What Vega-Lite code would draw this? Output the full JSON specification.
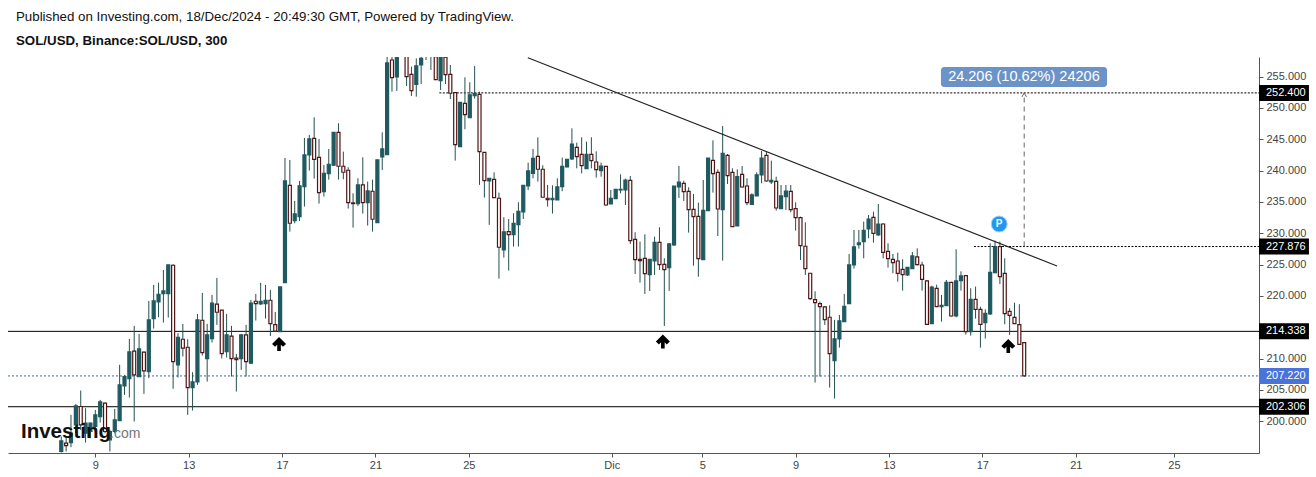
{
"$schema":"https://vega.github.io/schema/vega-lite/v6.json",
"width":1251,"height":396,"autosize":{"type":"none"},
"padding":{"left":8,"top":57,"right":57,"bottom":24},
"background":"white",
"config":{"view":{"stroke":null},"font":"Liberation Sans"},
"title":{"text":"Published on Investing.com, 18/Dec/2024 - 20:49:30 GMT, Powered by TradingView.","subtitle":"SOL/USD, Binance:SOL/USD, 300","anchor":"start","frame":"group","dx":8,"offset":8,"font":"Liberation Sans","fontSize":13.3,"fontWeight":"normal","color":"#111","subtitleFont":"Liberation Sans","subtitleFontSize":13.3,"subtitleFontWeight":"bold","subtitleColor":"#111","subtitlePadding":11},
"datasets":{
"levels":[
{"kind":"support","price":214.338,"start":"2024-11-05T06:14Z","end":"2024-12-28T20:24Z","tagEnd":"2024-12-30T23:45Z","labelAt":"2024-12-29T03:32Z","lo":213.06,"hi":215.62,"label":"214.338"},
{"kind":"support","price":202.306,"start":"2024-11-05T06:14Z","end":"2024-12-28T20:24Z","tagEnd":"2024-12-30T23:45Z","labelAt":"2024-12-29T03:32Z","lo":201.03,"hi":203.58,"label":"202.306"},
{"kind":"current","price":207.22,"start":"2024-11-05T06:14Z","end":"2024-12-28T20:24Z","tagEnd":"2024-12-30T23:45Z","labelAt":"2024-12-29T03:32Z","lo":205.94,"hi":208.5,"label":"207.220"},
{"kind":"target","price":252.4,"start":"2024-11-23T17:40Z","end":"2024-12-28T20:24Z","tagEnd":"2024-12-30T23:45Z","labelAt":"2024-12-29T03:32Z","lo":251.12,"hi":253.68,"label":"252.400"},
{"kind":"target","price":227.876,"start":"2024-12-16T15:22Z","end":"2024-12-28T20:24Z","tagEnd":"2024-12-30T23:45Z","labelAt":"2024-12-29T03:32Z","lo":226.6,"hi":229.15,"label":"227.876"}
],
"arrows":[{"t":"2024-11-16T20:53Z","price":212.32},{"t":"2024-12-03T07:30Z","price":212.7},{"t":"2024-12-18T02:38Z","price":212.0}],
"candles":[
{"t":"2024-11-07T13:00Z","open":195.16,"high":197.55,"low":195.0,"close":196.86},
{"t":"2024-11-07T18:00Z","open":196.49,"high":197.55,"low":195.16,"close":196.11},
{"t":"2024-11-07T23:00Z","open":196.59,"high":201.01,"low":195.85,"close":198.08},
{"t":"2024-11-08T04:00Z","open":199.41,"high":202.76,"low":198.08,"close":202.44},
{"t":"2024-11-08T09:00Z","open":202.34,"high":204.89,"low":198.61,"close":199.41},
{"t":"2024-11-08T14:00Z","open":198.08,"high":202.07,"low":196.59,"close":199.68},
{"t":"2024-11-08T19:00Z","open":198.35,"high":199.78,"low":197.28,"close":199.68},
{"t":"2024-11-09T00:00Z","open":199.15,"high":201.8,"low":198.35,"close":201.01},
{"t":"2024-11-09T05:00Z","open":200.74,"high":203.4,"low":199.78,"close":203.08},
{"t":"2024-11-09T10:00Z","open":202.87,"high":202.97,"low":198.08,"close":198.35},
{"t":"2024-11-09T15:00Z","open":197.02,"high":198.61,"low":195.16,"close":198.35},
{"t":"2024-11-09T20:00Z","open":198.35,"high":201.96,"low":198.08,"close":200.21},
{"t":"2024-11-10T01:00Z","open":200.1,"high":208.99,"low":200.1,"close":205.79},
{"t":"2024-11-10T06:00Z","open":205.63,"high":207.39,"low":204.2,"close":207.12},
{"t":"2024-11-10T11:00Z","open":206.8,"high":213.13,"low":203.77,"close":211.06},
{"t":"2024-11-10T16:00Z","open":211.17,"high":215.21,"low":199.94,"close":207.39},
{"t":"2024-11-10T21:00Z","open":207.12,"high":213.93,"low":207.12,"close":211.54},
{"t":"2024-11-11T02:00Z","open":211.01,"high":211.11,"low":204.36,"close":208.03},
{"t":"2024-11-11T07:00Z","open":207.92,"high":219.2,"low":206.86,"close":216.17},
{"t":"2024-11-11T12:00Z","open":216.38,"high":221.75,"low":214.78,"close":219.2},
{"t":"2024-11-11T17:00Z","open":219.04,"high":222.12,"low":216.59,"close":220.26},
{"t":"2024-11-11T22:00Z","open":220.37,"high":224.14,"low":215.74,"close":220.79},
{"t":"2024-11-12T03:00Z","open":220.37,"high":224.94,"low":216.54,"close":224.94},
{"t":"2024-11-12T08:00Z","open":224.89,"high":225.05,"low":205.16,"close":209.52},
{"t":"2024-11-12T13:00Z","open":208.99,"high":214.04,"low":206.96,"close":213.4},
{"t":"2024-11-12T18:00Z","open":213.08,"high":215.53,"low":210.32,"close":211.65},
{"t":"2024-11-12T23:00Z","open":211.8,"high":213.08,"low":201.01,"close":205.37},
{"t":"2024-11-13T04:00Z","open":205.37,"high":207.82,"low":201.7,"close":206.27},
{"t":"2024-11-13T09:00Z","open":206.27,"high":217.12,"low":205.79,"close":216.17},
{"t":"2024-11-13T14:00Z","open":216.11,"high":220.47,"low":210.47,"close":210.95},
{"t":"2024-11-13T19:00Z","open":210.0,"high":215.53,"low":206.33,"close":213.77},
{"t":"2024-11-14T00:00Z","open":213.19,"high":220.16,"low":212.55,"close":218.83},
{"t":"2024-11-14T05:00Z","open":218.67,"high":222.87,"low":215.37,"close":217.39},
{"t":"2024-11-14T10:00Z","open":217.71,"high":217.71,"low":210.0,"close":210.79},
{"t":"2024-11-14T15:00Z","open":211.11,"high":217.12,"low":210.16,"close":213.77},
{"t":"2024-11-14T20:00Z","open":213.56,"high":215.21,"low":207.12,"close":210.0},
{"t":"2024-11-15T01:00Z","open":210.05,"high":210.74,"low":204.73,"close":209.84},
{"t":"2024-11-15T06:00Z","open":210.0,"high":213.93,"low":208.19,"close":213.77},
{"t":"2024-11-15T11:00Z","open":213.77,"high":215.37,"low":207.12,"close":209.52},
{"t":"2024-11-15T16:00Z","open":209.25,"high":219.36,"low":209.15,"close":218.83},
{"t":"2024-11-15T21:00Z","open":219.14,"high":220.31,"low":216.06,"close":218.77},
{"t":"2024-11-16T02:00Z","open":218.72,"high":222.07,"low":218.56,"close":219.14},
{"t":"2024-11-16T07:00Z","open":218.77,"high":221.75,"low":216.38,"close":219.3},
{"t":"2024-11-16T12:00Z","open":219.3,"high":220.95,"low":213.61,"close":215.58},
{"t":"2024-11-16T17:00Z","open":215.42,"high":217.44,"low":214.3,"close":214.36},
{"t":"2024-11-16T22:00Z","open":214.3,"high":221.43,"low":214.3,"close":221.43},
{"t":"2024-11-17T03:00Z","open":222.12,"high":242.02,"low":222.12,"close":238.35},
{"t":"2024-11-17T08:00Z","open":237.65,"high":241.7,"low":230.26,"close":231.59},
{"t":"2024-11-17T13:00Z","open":232.02,"high":235.16,"low":231.59,"close":233.08},
{"t":"2024-11-17T18:00Z","open":232.65,"high":238.35,"low":231.96,"close":237.55},
{"t":"2024-11-17T23:00Z","open":237.44,"high":245.21,"low":234.25,"close":242.5},
{"t":"2024-11-18T04:00Z","open":242.5,"high":245.69,"low":240.0,"close":245.05},
{"t":"2024-11-18T09:00Z","open":245.15,"high":248.51,"low":238.72,"close":241.8},
{"t":"2024-11-18T14:00Z","open":242.12,"high":245.05,"low":234.73,"close":236.48},
{"t":"2024-11-18T19:00Z","open":236.64,"high":240.9,"low":235.85,"close":239.57},
{"t":"2024-11-19T00:00Z","open":239.52,"high":243.45,"low":238.56,"close":241.01},
{"t":"2024-11-19T05:00Z","open":240.85,"high":246.11,"low":240.74,"close":246.11},
{"t":"2024-11-19T10:00Z","open":246.11,"high":247.55,"low":238.56,"close":240.69},
{"t":"2024-11-19T15:00Z","open":240.69,"high":243.03,"low":238.61,"close":239.73},
{"t":"2024-11-19T20:00Z","open":240.05,"high":240.53,"low":233.93,"close":234.89},
{"t":"2024-11-20T01:00Z","open":234.84,"high":236.38,"low":230.9,"close":234.73},
{"t":"2024-11-20T06:00Z","open":234.73,"high":238.77,"low":234.36,"close":237.71},
{"t":"2024-11-20T11:00Z","open":237.71,"high":242.12,"low":233.13,"close":234.89},
{"t":"2024-11-20T16:00Z","open":234.89,"high":238.24,"low":231.22,"close":236.75},
{"t":"2024-11-20T21:00Z","open":236.7,"high":238.56,"low":230.26,"close":232.23},
{"t":"2024-11-21T02:00Z","open":231.7,"high":241.7,"low":231.7,"close":241.7},
{"t":"2024-11-21T07:00Z","open":242.18,"high":246.11,"low":240.1,"close":243.45},
{"t":"2024-11-21T12:00Z","open":242.55,"high":258.5,"low":242.55,"close":257.18},
{"t":"2024-11-21T17:00Z","open":257.65,"high":258.6,"low":252.6,"close":254.84},
{"t":"2024-11-21T22:00Z","open":254.94,"high":258.5,"low":252.71,"close":258.2},
{"t":"2024-11-22T03:00Z","open":258.6,"high":260.0,"low":258.2,"close":259.5},
{"t":"2024-11-22T08:00Z","open":258.4,"high":258.8,"low":253.51,"close":254.99},
{"t":"2024-11-22T13:00Z","open":255.37,"high":256.59,"low":251.91,"close":252.76},
{"t":"2024-11-22T18:00Z","open":253.77,"high":257.9,"low":251.8,"close":256.7},
{"t":"2024-11-22T23:00Z","open":256.86,"high":258.5,"low":253.82,"close":257.92},
{"t":"2024-11-23T04:00Z","open":259.2,"high":259.5,"low":257.65,"close":258.4},
{"t":"2024-11-23T09:00Z","open":259.3,"high":259.6,"low":256.06,"close":258.3},
{"t":"2024-11-23T14:00Z","open":258.2,"high":258.7,"low":254.52,"close":254.52},
{"t":"2024-11-23T19:00Z","open":254.36,"high":258.7,"low":252.87,"close":258.3},
{"t":"2024-11-24T00:00Z","open":258.1,"high":258.5,"low":253.82,"close":255.31},
{"t":"2024-11-24T05:00Z","open":255.37,"high":256.86,"low":251.43,"close":252.34},
{"t":"2024-11-24T10:00Z","open":252.44,"high":252.44,"low":241.59,"close":244.14},
{"t":"2024-11-24T15:00Z","open":243.82,"high":250.9,"low":243.82,"close":250.9},
{"t":"2024-11-24T20:00Z","open":250.74,"high":254.89,"low":246.59,"close":248.93},
{"t":"2024-11-25T01:00Z","open":248.45,"high":254.09,"low":248.45,"close":252.07},
{"t":"2024-11-25T06:00Z","open":251.96,"high":256.7,"low":251.48,"close":252.34},
{"t":"2024-11-25T11:00Z","open":252.18,"high":252.6,"low":237.71,"close":243.03},
{"t":"2024-11-25T16:00Z","open":242.92,"high":242.92,"low":235.69,"close":238.4},
{"t":"2024-11-25T21:00Z","open":238.35,"high":238.77,"low":231.33,"close":238.77},
{"t":"2024-11-26T02:00Z","open":238.61,"high":239.73,"low":235.69,"close":235.69},
{"t":"2024-11-26T07:00Z","open":235.58,"high":236.48,"low":222.76,"close":227.76},
{"t":"2024-11-26T12:00Z","open":227.34,"high":232.55,"low":226.11,"close":230.21},
{"t":"2024-11-26T17:00Z","open":230.26,"high":232.28,"low":224.04,"close":229.78},
{"t":"2024-11-26T22:00Z","open":229.78,"high":233.19,"low":227.87,"close":231.59},
{"t":"2024-11-27T03:00Z","open":231.38,"high":234.94,"low":227.87,"close":233.51},
{"t":"2024-11-27T08:00Z","open":233.4,"high":237.65,"low":232.28,"close":237.65},
{"t":"2024-11-27T13:00Z","open":237.55,"high":241.27,"low":236.91,"close":239.94},
{"t":"2024-11-27T18:00Z","open":239.57,"high":243.45,"low":238.77,"close":241.96},
{"t":"2024-11-27T23:00Z","open":242.28,"high":245.31,"low":238.24,"close":240.21},
{"t":"2024-11-28T04:00Z","open":240.21,"high":240.85,"low":235.69,"close":235.74},
{"t":"2024-11-28T09:00Z","open":235.58,"high":237.71,"low":234.25,"close":235.37},
{"t":"2024-11-28T14:00Z","open":235.37,"high":237.65,"low":233.13,"close":235.58},
{"t":"2024-11-28T19:00Z","open":235.31,"high":238.77,"low":235.31,"close":237.39},
{"t":"2024-11-29T00:00Z","open":237.44,"high":242.07,"low":236.7,"close":240.69},
{"t":"2024-11-29T05:00Z","open":240.58,"high":241.85,"low":240.5,"close":241.8},
{"t":"2024-11-29T10:00Z","open":241.85,"high":246.74,"low":241.69,"close":244.24},
{"t":"2024-11-29T15:00Z","open":243.71,"high":244.46,"low":240.36,"close":242.22},
{"t":"2024-11-29T20:00Z","open":242.6,"high":245.31,"low":239.56,"close":240.79},
{"t":"2024-11-30T01:00Z","open":240.31,"high":244.62,"low":240.31,"close":242.6},
{"t":"2024-11-30T06:00Z","open":242.6,"high":245.31,"low":240.36,"close":241.59},
{"t":"2024-11-30T11:00Z","open":241.37,"high":243.07,"low":238.87,"close":240.15},
{"t":"2024-11-30T16:00Z","open":239.99,"high":241.27,"low":239.03,"close":240.73},
{"t":"2024-11-30T21:00Z","open":240.68,"high":240.68,"low":234.4,"close":234.51},
{"t":"2024-12-01T02:00Z","open":234.67,"high":236.9,"low":234.67,"close":235.57},
{"t":"2024-12-01T07:00Z","open":235.52,"high":237.01,"low":235.52,"close":237.01},
{"t":"2024-12-01T12:00Z","open":236.9,"high":239.4,"low":236.37,"close":237.01},
{"t":"2024-12-01T17:00Z","open":236.9,"high":238.71,"low":234.51,"close":238.5},
{"t":"2024-12-01T22:00Z","open":238.45,"high":239.14,"low":228.29,"close":228.82},
{"t":"2024-12-02T03:00Z","open":229.03,"high":230.15,"low":223.5,"close":225.79},
{"t":"2024-12-02T08:00Z","open":225.84,"high":228.66,"low":222.12,"close":225.63},
{"t":"2024-12-02T13:00Z","open":226.0,"high":229.83,"low":220.31,"close":223.55},
{"t":"2024-12-02T18:00Z","open":223.39,"high":225.84,"low":220.79,"close":225.84},
{"t":"2024-12-02T23:00Z","open":225.57,"high":229.46,"low":223.34,"close":228.55},
{"t":"2024-12-03T04:00Z","open":228.55,"high":230.95,"low":224.14,"close":224.99},
{"t":"2024-12-03T09:00Z","open":225.04,"high":226.0,"low":215.2,"close":224.19},
{"t":"2024-12-03T14:00Z","open":224.51,"high":228.39,"low":220.79,"close":228.29},
{"t":"2024-12-03T19:00Z","open":228.13,"high":237.54,"low":227.97,"close":237.54},
{"t":"2024-12-04T00:00Z","open":237.38,"high":240.73,"low":235.63,"close":238.18},
{"t":"2024-12-04T05:00Z","open":237.97,"high":238.39,"low":235.15,"close":236.64},
{"t":"2024-12-04T10:00Z","open":236.69,"high":237.33,"low":230.1,"close":233.77},
{"t":"2024-12-04T15:00Z","open":233.82,"high":236.27,"low":224.83,"close":232.65},
{"t":"2024-12-04T20:00Z","open":232.7,"high":234.88,"low":223.07,"close":225.95},
{"t":"2024-12-05T01:00Z","open":225.79,"high":238.5,"low":225.79,"close":233.66},
{"t":"2024-12-05T06:00Z","open":233.61,"high":242.01,"low":233.61,"close":242.01},
{"t":"2024-12-05T11:00Z","open":241.64,"high":244.83,"low":236.48,"close":239.51},
{"t":"2024-12-05T16:00Z","open":239.72,"high":240.2,"low":229.56,"close":233.87},
{"t":"2024-12-05T21:00Z","open":233.77,"high":247.12,"low":225.63,"close":242.76},
{"t":"2024-12-06T02:00Z","open":242.44,"high":242.65,"low":237.86,"close":239.19},
{"t":"2024-12-06T07:00Z","open":239.72,"high":240.36,"low":231.05,"close":231.05},
{"t":"2024-12-06T12:00Z","open":231.16,"high":240.2,"low":231.16,"close":239.03},
{"t":"2024-12-06T17:00Z","open":239.4,"high":240.73,"low":237.28,"close":237.38},
{"t":"2024-12-06T22:00Z","open":237.54,"high":238.77,"low":234.46,"close":234.88},
{"t":"2024-12-07T03:00Z","open":234.62,"high":236.37,"low":234.51,"close":236.11},
{"t":"2024-12-07T08:00Z","open":235.95,"high":239.72,"low":235.95,"close":239.3},
{"t":"2024-12-07T13:00Z","open":239.3,"high":243.13,"low":237.97,"close":242.01},
{"t":"2024-12-07T18:00Z","open":242.44,"high":243.02,"low":238.23,"close":238.34},
{"t":"2024-12-07T23:00Z","open":238.18,"high":241.59,"low":237.86,"close":238.45},
{"t":"2024-12-08T04:00Z","open":238.29,"high":239.03,"low":233.61,"close":234.03},
{"t":"2024-12-08T09:00Z","open":233.93,"high":237.7,"low":233.93,"close":235.95},
{"t":"2024-12-08T14:00Z","open":235.84,"high":237.7,"low":233.71,"close":236.74},
{"t":"2024-12-08T19:00Z","open":236.69,"high":237.7,"low":233.34,"close":233.77},
{"t":"2024-12-09T00:00Z","open":233.93,"high":234.94,"low":230.42,"close":232.49},
{"t":"2024-12-09T05:00Z","open":232.49,"high":232.65,"low":225.73,"close":228.02},
{"t":"2024-12-09T10:00Z","open":227.92,"high":231.74,"low":223.34,"close":224.35},
{"t":"2024-12-09T15:00Z","open":223.61,"high":223.61,"low":219.35,"close":219.56},
{"t":"2024-12-09T20:00Z","open":219.4,"high":220.73,"low":206.16,"close":218.93},
{"t":"2024-12-10T01:00Z","open":218.77,"high":219.09,"low":207.12,"close":218.29},
{"t":"2024-12-10T06:00Z","open":218.23,"high":218.39,"low":215.36,"close":216.21},
{"t":"2024-12-10T11:00Z","open":216.59,"high":218.5,"low":205.36,"close":210.79},
{"t":"2024-12-10T16:00Z","open":209.67,"high":216.16,"low":203.61,"close":213.13},
{"t":"2024-12-10T21:00Z","open":213.13,"high":216.96,"low":211.75,"close":216.0},
{"t":"2024-12-11T02:00Z","open":215.89,"high":220.31,"low":215.84,"close":218.34},
{"t":"2024-12-11T07:00Z","open":218.77,"high":226.69,"low":218.77,"close":224.94},
{"t":"2024-12-11T12:00Z","open":224.94,"high":230.52,"low":224.35,"close":227.81},
{"t":"2024-12-11T17:00Z","open":228.18,"high":230.52,"low":227.54,"close":228.45},
{"t":"2024-12-11T22:00Z","open":228.66,"high":231.85,"low":226.0,"close":230.46},
{"t":"2024-12-12T03:00Z","open":230.68,"high":232.91,"low":229.19,"close":232.27},
{"t":"2024-12-12T08:00Z","open":232.54,"high":233.44,"low":228.5,"close":229.99},
{"t":"2024-12-12T13:00Z","open":229.72,"high":234.67,"low":229.61,"close":231.47},
{"t":"2024-12-12T18:00Z","open":231.47,"high":231.58,"low":226.0,"close":226.95},
{"t":"2024-12-12T23:00Z","open":227.11,"high":228.39,"low":224.51,"close":225.94},
{"t":"2024-12-13T04:00Z","open":225.84,"high":226.69,"low":223.6,"close":225.3},
{"t":"2024-12-13T09:00Z","open":225.57,"high":226.9,"low":222.27,"close":223.6},
{"t":"2024-12-13T14:00Z","open":224.24,"high":225.84,"low":220.84,"close":223.39},
{"t":"2024-12-13T19:00Z","open":223.34,"high":224.56,"low":223.18,"close":224.56},
{"t":"2024-12-14T00:00Z","open":224.35,"high":227.01,"low":224.35,"close":226.37},
{"t":"2024-12-14T05:00Z","open":226.21,"high":227.59,"low":224.88,"close":224.99},
{"t":"2024-12-14T10:00Z","open":224.93,"high":225.46,"low":220.84,"close":222.65},
{"t":"2024-12-14T15:00Z","open":222.38,"high":222.49,"low":215.46,"close":215.46},
{"t":"2024-12-14T20:00Z","open":215.57,"high":221.63,"low":215.57,"close":221.42},
{"t":"2024-12-15T01:00Z","open":221.21,"high":221.79,"low":218.28,"close":218.28},
{"t":"2024-12-15T06:00Z","open":218.28,"high":220.15,"low":215.89,"close":218.5},
{"t":"2024-12-15T11:00Z","open":218.44,"high":222.54,"low":218.44,"close":222.17},
{"t":"2024-12-15T16:00Z","open":222.17,"high":222.17,"low":216.69,"close":216.79},
{"t":"2024-12-15T21:00Z","open":216.79,"high":227.43,"low":216.58,"close":222.38},
{"t":"2024-12-16T02:00Z","open":222.43,"high":223.92,"low":220.84,"close":223.18},
{"t":"2024-12-16T07:00Z","open":223.23,"high":223.23,"low":213.82,"close":214.29},
{"t":"2024-12-16T12:00Z","open":214.29,"high":221.21,"low":213.66,"close":219.45},
{"t":"2024-12-16T17:00Z","open":219.45,"high":221.47,"low":216.37,"close":217.86},
{"t":"2024-12-16T22:00Z","open":217.86,"high":218.28,"low":211.74,"close":215.46},
{"t":"2024-12-17T03:00Z","open":215.73,"high":217.86,"low":213.18,"close":217.22},
{"t":"2024-12-17T08:00Z","open":217.11,"high":228.39,"low":216.95,"close":223.76},
{"t":"2024-12-17T13:00Z","open":223.71,"high":228.82,"low":223.6,"close":227.86},
{"t":"2024-12-17T18:00Z","open":227.86,"high":228.66,"low":221.9,"close":223.07},
{"t":"2024-12-17T23:00Z","open":223.6,"high":226.0,"low":215.46,"close":217.17},
{"t":"2024-12-18T04:00Z","open":217.54,"high":218.07,"low":213.76,"close":216.9},
{"t":"2024-12-18T09:00Z","open":216.58,"high":218.92,"low":215.57,"close":215.57},
{"t":"2024-12-18T14:00Z","open":215.41,"high":218.66,"low":212.17,"close":212.27},
{"t":"2024-12-18T19:00Z","open":212.54,"high":212.54,"low":207.12,"close":207.22}
]},
"data":{"name":"candles"},
"encoding":{
 "x":{"type":"temporal","title":null,"scale":{"type":"utc","nice":false,"padding":0,"domain":["2024-11-05T06:14Z","2024-12-28T20:24Z"]},
  "axis":{"values":["2024-11-09T00:00Z","2024-11-13T00:00Z","2024-11-17T00:00Z","2024-11-21T00:00Z","2024-11-25T00:00Z","2024-12-01T03:00Z","2024-12-05T00:00Z","2024-12-09T00:00Z","2024-12-13T00:00Z","2024-12-17T00:00Z","2024-12-21T00:00Z","2024-12-25T05:00Z"],"labelExpr":"utcdate(datum.value)==1 ? 'Dic' : ''+utcdate(datum.value)","grid":false,"title":null,"domainColor":"#555","tickColor":"#555","tickSize":4,"labelColor":"#444","labelFontSize":11,"labelFont":"Liberation Sans","labelPadding":2,"labelFlush":false,"labelOverlap":false}},
 "y":{"type":"quantitative","title":null,"scale":{"domain":[194.92,258.13],"nice":false,"zero":false,"padding":0},
  "axis":{"orient":"right","values":[200,205,210,220,225,230,235,240,245,250,255],"format":".3f","grid":false,"title":null,"domainColor":"#555","tickColor":"#555","tickSize":4,"labelColor":"#444","labelFontSize":11,"labelFont":"Liberation Sans","labelPadding":3,"labelOverlap":false}}},
"layer":[
{"data":{"name":"levels"},"transform":[{"filter":"datum.kind=='support'"}],"mark":{"type":"rule","color":"#000","strokeWidth":1},
 "encoding":{"x":{"field":"start"},"x2":{"field":"end"},"y":{"field":"price"}}},
{"data":{"name":"levels"},"transform":[{"filter":"datum.kind=='current'"}],"mark":{"type":"rule","color":"#3f62ad","strokeWidth":1,"strokeDash":[2,2]},
 "encoding":{"x":{"field":"start"},"x2":{"field":"end"},"y":{"field":"price"}}},
{"data":{"name":"levels"},"transform":[{"filter":"datum.kind=='target'"}],"mark":{"type":"rule","color":"#000","strokeWidth":1,"strokeDash":[2,1.5]},
 "encoding":{"x":{"field":"start"},"x2":{"field":"end"},"y":{"field":"price"}}},
{"mark":{"type":"rule","color":"#24504e","strokeWidth":1,"clip":true},
 "encoding":{"x":{"field":"t"},"y":{"field":"low"},"y2":{"field":"high"}}},
{"mark":{"type":"bar","size":3,"strokeWidth":1.2,"clip":true},
 "encoding":{"x":{"field":"t"},"y":{"field":"open"},"y2":{"field":"close"},
 "fill":{"condition":{"test":"datum.close>=datum.open","value":"#1f5a60"},"value":"#ffffff"},
 "stroke":{"condition":{"test":"datum.close>=datum.open","value":"#1f5a60"},"value":"#501414"}}},
{"data":{"values":[{"t":"2024-11-27T12:43Z","price":258.0},{"t":"2024-12-20T04:48Z","price":224.77}]},"mark":{"type":"line","color":"#222","strokeWidth":1.2},
 "encoding":{"x":{"field":"t"},"y":{"field":"price"}}},
{"data":{"values":[{"t":"2024-12-18T19:00Z","base":227.876,"top":252.4}]},"mark":{"type":"rule","color":"#666","strokeWidth":1,"strokeDash":[5,4]},
 "encoding":{"x":{"field":"t"},"y":{"field":"base"},"y2":{"field":"top"}}},
{"data":{"values":[{"t":"2024-12-18T19:00Z","top":252.4}]},"mark":{"type":"point","shape":"M-0.5,0.9L0,0L0.5,0.9","size":81,"filled":false,"stroke":"#666","strokeWidth":1,"opacity":1},
 "encoding":{"x":{"field":"t"},"y":{"field":"top"}}},
{"data":{"name":"arrows"},"mark":{"type":"point","shape":"M0,-0.5L0.5,0L0.28,0.2L0.13,0.05L0.13,0.5L-0.13,0.5L-0.13,0.05L-0.28,0.2L-0.5,0Z","size":784,"filled":true,"color":"#000","opacity":1},
 "encoding":{"x":{"field":"t"},"y":{"field":"price"}}},
{"data":{"values":[{"t":"2024-12-15T05:25Z","t2":"2024-12-22T08:10Z","lo":253.34,"hi":256.53}]},"mark":{"type":"rect","color":"#6b93c8","cornerRadius":3},
 "encoding":{"x":{"field":"t"},"x2":{"field":"t2"},"y":{"field":"lo"},"y2":{"field":"hi"}}},
{"data":{"values":[{"t":"2024-12-18T18:42Z","price":254.94,"label":"24.206 (10.62%) 24206"}]},"mark":{"type":"text","color":"#fff","fontSize":14.5,"font":"Liberation Sans","align":"center","baseline":"middle"},
 "encoding":{"x":{"field":"t"},"y":{"field":"price"},"text":{"field":"label"}}},
{"data":{"values":[{"t":"2024-12-17T17:17Z","price":231.47,"label":"P"}]},"mark":{"type":"point","shape":"circle","filled":true,"size":256,"fill":"#2196f3","stroke":"#a8d5fa","strokeWidth":1,"opacity":1},"encoding":{"x":{"field":"t"},"y":{"field":"price"}}},
{"data":{"values":[{"t":"2024-12-17T17:17Z","price":231.47,"label":"P"}]},"mark":{"type":"text","color":"#fff","fontSize":10,"fontWeight":"bold","font":"Liberation Sans","align":"center","baseline":"middle"},"encoding":{"x":{"field":"t"},"y":{"field":"price"},"text":{"field":"label"}}},
{"data":{"values":[{"t":"2024-11-05T19:36Z","price":197.3,"label":"Investing"}]},"mark":{"type":"text","color":"#111","fontSize":20.5,"fontWeight":"bold","font":"Liberation Sans","align":"left","baseline":"alphabetic"},
 "encoding":{"x":{"field":"t"},"y":{"field":"price"},"text":{"field":"label"}}},
{"data":{"values":[{"t":"2024-11-09T15:07Z","price":197.3,"label":".com"}]},"mark":{"type":"text","color":"#777","fontSize":14,"font":"Liberation Sans","align":"left","baseline":"alphabetic"},
 "encoding":{"x":{"field":"t"},"y":{"field":"price"},"text":{"field":"label"}}},
{"data":{"name":"levels"},"mark":{"type":"rect"},
 "encoding":{"x":{"field":"end"},"x2":{"field":"tagEnd"},"y":{"field":"lo"},"y2":{"field":"hi"},
 "fill":{"condition":{"test":"datum.kind=='current'","value":"#4a72d8"},"value":"#000"}}},
{"data":{"name":"levels"},"mark":{"type":"text","color":"#fff","fontSize":11,"font":"Liberation Sans","align":"left","baseline":"middle"},
 "encoding":{"x":{"field":"labelAt"},"y":{"field":"price"},"text":{"field":"label"}}}
]
}
